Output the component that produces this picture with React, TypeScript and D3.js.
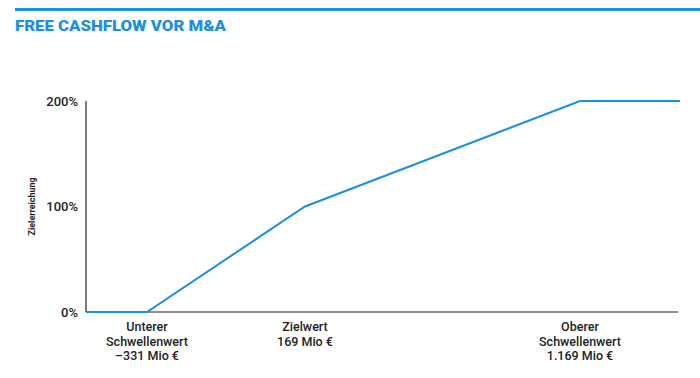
import React from "react";
import * as d3 from "d3";

const title = "FREE CASHFLOW VOR M&A";
const yTicks = [0, 100, 200];
const yTickLabels = ["0%", "100%", "200%"];
const yAxisTitle = "Zielerreichung";
// x values (Mio €) of the curve's break points; axis start / end values frame the chart
const axisStart = -600;
const axisEnd = 1400;
const thresholds = [-331, 169, 1169];
const thresholdLabels = [
  ["Unterer", "Schwellenwert", "\u2013331 Mio \u20ac"],
  ["Zielwert", "169 Mio \u20ac"],
  ["Oberer", "Schwellenwert", "1.169 Mio \u20ac"],
];
const curveX = [axisStart, -331, 169, 1169, axisEnd];
const curveY = [0, 0, 100, 200, 200];

const W = 700;
const H = 378;
const BLUE = "#1b8fe0";
const DARK = "#222";

export default function App() {
  const x = d3
    .scaleLinear()
    .domain([axisStart, ...thresholds, axisEnd])
    .range([86, 147, 305, 580, 680]);
  const y = d3.scaleLinear().domain([0, 200]).range([312, 101]);
  const line = d3
    .line<number>()
    .x((_, i) => x(curveX[i]))
    .y((d) => y(d));
  const font = "Roboto, sans-serif";
  return (
    <svg
      width={W}
      height={H}
      style={{ position: "absolute", left: 0, top: 0, background: "#fff" }}
    >
      <rect x={15} y={8} width={W - 15} height={3} fill={BLUE} />
      <text
        x={15}
        y={31}
        fill={BLUE}
        fontFamily="Roboto, sans-serif"
        fontWeight={900}
        fontSize={15.5}
        textLength={211}
        lengthAdjust="spacingAndGlyphs"
      >
        {title}
      </text>
      {/* axes */}
      <line x1={x(axisStart)} x2={x(axisStart)} y1={y(200)} y2={y(0)} stroke={DARK} strokeWidth={1.2} />
      <line x1={x(axisStart)} x2={x(axisEnd) - 2} y1={y(0)} y2={y(0)} stroke={DARK} strokeWidth={1.2} />
      {yTicks.map((t, i) => (
        <text
          key={t}
          x={78}
          y={y(t)}
          dy="0.35em"
          textAnchor="end"
          fontFamily={font}
          fontSize={13}
          fontWeight={500}
          fill={DARK}
        >
          {yTickLabels[i]}
        </text>
      ))}
      <text
        transform={`translate(35,${y(100)}) rotate(-90)`}
        textAnchor="middle"
        fontFamily={font}
        fontWeight={700}
        fontSize={9.5}
        textLength={58}
        lengthAdjust="spacingAndGlyphs"
        fill={DARK}
      >
        {yAxisTitle}
      </text>
      <path d={line(curveY) || ""} fill="none" stroke={BLUE} strokeWidth={2} />
      {thresholds.map((t, i) => (
        <text
          key={t}
          x={x(t)}
          y={331}
          textAnchor="middle"
          fontFamily={font}
          fontSize={12.5}
          fontWeight={500}
          fill={DARK}
        >
          {thresholdLabels[i].map((s, j) => (
            <tspan key={j} x={x(t)} dy={j === 0 ? 0 : 14.5}>
              {s}
            </tspan>
          ))}
        </text>
      ))}
    </svg>
  );
}
